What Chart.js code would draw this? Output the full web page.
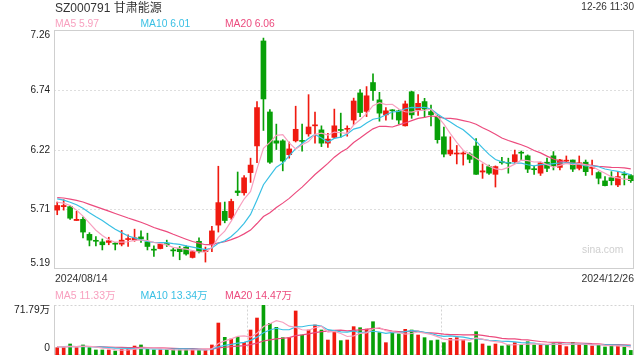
<!DOCTYPE html>
<html><head><meta charset="utf-8">
<script src="https://cdn.jsdelivr.net/npm/chart.js@4.4.1/dist/chart.umd.min.js"></script>
<style>
html,body{margin:0;padding:0;background:#fff;}
#wrap{position:relative;width:640px;height:360px;overflow:hidden;font-family:"Liberation Sans",Arial,"Noto Sans CJK SC",sans-serif;}
canvas{position:absolute;left:0;top:0;}
.t{position:absolute;white-space:nowrap;font-size:10.5px;line-height:14px;height:14px;color:#333;}
</style></head><body>
<div id="wrap">
<canvas id="main" width="640" height="360"></canvas>
<canvas id="vol" width="640" height="360"></canvas>
<div class="t" style="left:55px;top:1px;font-size:12px;">SZ000791 甘肃能源</div>
<div class="t" style="right:6px;top:0px;font-size:10px;">12-26 11:30</div>
<div class="t" id="lg1" style="left:55px;top:17px;font-size:10.3px;color:#f8a0bf">MA5 5.97</div>
<div class="t" id="lg2" style="left:140.5px;top:17px;font-size:10.3px;color:#3ac0e4">MA10 6.01</div>
<div class="t" id="lg3" style="left:225px;top:17px;font-size:10.3px;color:#ec4b7e">MA20 6.06</div>
<div class="t" style="left:582px;top:242.5px;font-size:10.3px;color:#cfcfcf">sina.com</div>
<div class="t" id="d0" style="left:55px;top:270.5px;"></div>
<div class="t" id="d1" style="right:6px;top:270.5px;"></div>
<div class="t" style="left:55px;top:287.5px;color:#f8a0bf">MA5 11.33万</div>
<div class="t" style="left:140.5px;top:287.5px;color:#3ac0e4">MA10 13.34万</div>
<div class="t" style="left:225px;top:287.5px;color:#ec4b7e">MA20 14.47万</div>
</div>
<script>
const dates = ['2024/08/14','2024/08/15','2024/08/16','2024/08/19','2024/08/20','2024/08/21','2024/08/22','2024/08/23','2024/08/26','2024/08/27','2024/08/28','2024/08/29','2024/08/30',
'2024/09/02','2024/09/03','2024/09/04','2024/09/05','2024/09/06','2024/09/09','2024/09/10','2024/09/11','2024/09/12','2024/09/13','2024/09/18','2024/09/19','2024/09/20','2024/09/23','2024/09/24','2024/09/25','2024/09/26','2024/09/27','2024/09/30',
'2024/10/08','2024/10/09','2024/10/10','2024/10/11','2024/10/14','2024/10/15','2024/10/16','2024/10/17','2024/10/18','2024/10/21','2024/10/22','2024/10/23','2024/10/24','2024/10/25','2024/10/28','2024/10/29','2024/10/30','2024/10/31',
'2024/11/01','2024/11/04','2024/11/05','2024/11/06','2024/11/07','2024/11/08','2024/11/11','2024/11/12','2024/11/13','2024/11/14','2024/11/15','2024/11/18','2024/11/19','2024/11/20','2024/11/21','2024/11/22','2024/11/25','2024/11/26','2024/11/27','2024/11/28','2024/11/29',
'2024/12/02','2024/12/03','2024/12/04','2024/12/05','2024/12/06','2024/12/09','2024/12/10','2024/12/11','2024/12/12','2024/12/13','2024/12/16','2024/12/17','2024/12/18','2024/12/19','2024/12/20','2024/12/23','2024/12/24','2024/12/25','2024/12/26'];

const opens = [5.70,5.73,5.73,5.61,5.62,5.49,5.435,5.425,5.42,5.41, 5.405,5.445,5.44,5.468,5.425,5.357,5.367,5.41,5.356,5.367,
5.38,5.29,5.43,5.34,5.40,5.57,5.69,5.635,5.866,5.85, 6.025,6.256,7.165,6.55,6.30,6.30,6.18,6.30,6.30,6.36,
6.43,6.395,6.28,6.33,6.395,6.40,6.48,6.715,6.555,6.805, 6.655,6.525,6.567,6.56,6.43,6.725,6.567,6.64,6.553,6.51,
6.335,6.186,6.186,6.186,6.186,6.255,6.03,6.077,6.01,6.12, 6.11,6.12,6.198,6.17,6.056,6.02,6.115,6.17,6.07,6.124,
6.134,6.062,6.115,6.062,6.025,5.953,5.981,5.918,6.013,5.999];
const highs = [5.77,5.79,5.74,5.69,5.64,5.505,5.47,5.45,5.465,5.42, 5.525,5.485,5.535,5.52,5.50,5.39,5.413,5.44,5.37,5.385,
5.39,5.35,5.46,5.38,5.56,6.08,5.77,5.795,6.03,6.00, 6.15,6.64,7.19,6.57,6.445,6.31,6.29,6.60,6.445,6.70,
6.55,6.43,6.365,6.575,6.54,6.43,6.67,6.745,6.77,6.88, 6.72,6.587,6.57,6.567,6.645,6.73,6.70,6.668,6.61,6.524,
6.42,6.335,6.26,6.205,6.197,6.32,6.10,6.09,6.083,6.157, 6.15,6.22,6.212,6.178,6.082,6.117,6.15,6.207,6.14,6.169,
6.134,6.169,6.134,6.134,6.033,5.99,6.033,6.033,6.033,6.01];
const lows = [5.66,5.70,5.62,5.61,5.46,5.39,5.39,5.355,5.40,5.355, 5.39,5.385,5.43,5.42,5.355,5.30,5.364,5.385,5.30,5.27,
5.31,5.285,5.33,5.25,5.34,5.51,5.59,5.62,5.826,5.83, 5.94,6.11,6.39,6.105,6.225,6.04,6.15,6.29,6.21,6.34,
6.28,6.25,6.244,6.32,6.33,6.34,6.44,6.51,6.51,6.65, 6.47,6.48,6.487,6.446,6.428,6.495,6.52,6.505,6.43,6.28,
6.16,6.172,6.10,6.09,6.11,6.01,5.975,6.01,5.90,6.097, 6.02,6.105,6.135,6.025,6.01,6.00,6.034,6.048,6.048,6.105,
6.034,6.048,6.00,6.005,5.927,5.91,5.918,5.904,5.918,5.94];
const closes = [5.74,5.74,5.63,5.62,5.51,5.44,5.43,5.40,5.435,5.405, 5.44,5.45,5.46,5.45,5.385,5.353,5.405,5.40,5.347,5.34,
5.32,5.34,5.34,5.355,5.52,5.765,5.61,5.775,5.852,5.98, 6.09,6.588,6.663,6.115,6.28,6.125,6.23,6.40,6.295,6.42,
6.435,6.28,6.315,6.43,6.39,6.405,6.645,6.545,6.69,6.735, 6.54,6.56,6.56,6.48,6.62,6.525,6.625,6.575,6.525,6.31,
6.185,6.22,6.19,6.19,6.14,6.01,6.04,6.02,6.077,6.11, 6.105,6.18,6.193,6.055,6.05,6.11,6.062,6.083,6.135,6.13,
6.055,6.11,6.033,6.065,5.976,5.912,5.955,5.99,6.005,5.955];
// closes of the 19 sessions before the window (estimated from where the MA lines start)
const preCloses = [5.80,5.83,5.82,5.81,5.84,5.82,5.80,5.83,5.81,5.83,5.84,5.82,5.83,5.81,5.83,5.78,5.73,5.82,5.77];

// volume, unit 万
const volumes = [10.5,10.5,15.8,10.5,14.4,10.5,7.2,7.2,7.2,5.7, 8.1,8.1,12.9,14.4,8.1,7.2,7.2,7.2,7.2,7.2,
7.2,7.2,8.1,7.2,14.4,45.9,25.4,23.0,25.4,18.2, 35.9,53.1,71.79,45.5,39.7,24.9,24.9,63.2,28.7,35.9,
43.1,35.9,21.5,33.5,20.6,21.5,40.7,39.2,37.3,47.8, 32.1,17.7,33.5,30.2,36.9,35.9,28.7,24.9,20.6,21.5,
17.7,23.9,24.9,22.5,17.7,33.5,15.8,12.9,15.8,12.9, 14.4,17.7,14.4,19.1,14.4,14.4,14.4,16.7,16.7,12.0,
18.2,15.8,14.4,12.9,14.4,11.5,13.5,13.5,11.5,6.6];
const preVolumes = [11.8,12.5,10.9,13.2,12.1,11.4,12.8,13.5,11.2,12.0,12.6,11.9,13.1,12.3,11.7,12.4,11.6,13.0,12.2];

const priceTicks = [5.19, 5.71, 6.22, 6.74, 7.26];
const volMax = 71.79;
const volTickLabels = ['0', '71.79万'];

const UP = '#f01a10', DOWN = '#08a008';
const C5 = '#f8a0bf', C10 = '#3ac0e4', C20 = '#ec4b7e';
const FONT = '"Liberation Sans", Arial, "Noto Sans CJK SC", sans-serif';

function movingAvg(pre, vals, n) {
  const all = pre.concat(vals);
  return vals.map((_, i) => {
    const end = pre.length + i;
    let s = 0;
    for (let k = end - n + 1; k <= end; k++) s += all[k];
    return s / n;
  });
}

document.getElementById('d0').textContent = dates[0];
document.getElementById('d1').textContent = dates[dates.length - 1];

const colors = closes.map((c, i) => c >= opens[i] ? UP : DOWN);
const wicks = lows.map((l, i) => [l, highs[i]]);
const bodies = opens.map((o, i) => [o, closes[i]]);

const lineDs = (data, color, order) => ({
  type: 'line', data, borderColor: color, borderWidth: 1.2, pointRadius: 0,
  tension: 0, fill: false, order
});

const mainPlugin = {
  id: 'mainDeco',
  beforeDatasetsDraw(chart) {
    const { ctx, chartArea: a, scales: { y } } = chart;
    ctx.save();
    ctx.lineWidth = 1;
    ctx.strokeStyle = '#dedede';
    ctx.setLineDash([2, 2]);
    priceTicks.slice(1, -1).forEach(v => {
      const py = Math.round(y.getPixelForValue(v)) + 0.5;
      ctx.beginPath(); ctx.moveTo(a.left, py); ctx.lineTo(a.right, py); ctx.stroke();
    });
    ctx.setLineDash([]);
    ctx.strokeStyle = '#cfcfcf';
    ctx.strokeRect(Math.round(a.left) + 0.5, Math.round(a.top) + 0.5,
      Math.round(a.right - a.left) - 1, Math.round(a.bottom - a.top) - 1);
    ctx.restore();
  },
  afterDraw(chart) {
    const { ctx, chartArea: a, scales: { y } } = chart;
    ctx.save();
    ctx.font = '10px ' + FONT;
    ctx.fillStyle = '#222';
    ctx.textAlign = 'right';
    ctx.textBaseline = 'middle';
    priceTicks.forEach(v => {
      let py = y.getPixelForValue(v);
      py = Math.min(Math.max(py, a.top + 5), a.bottom - 6);
      ctx.fillText(v.toFixed(2), a.left - 4, py);
    });
    ctx.restore();
  }
};

new Chart(document.getElementById('main'), {
  type: 'bar',
  data: {
    labels: dates,
    datasets: [
      lineDs(movingAvg(preCloses, closes, 5), C5, 1),
      lineDs(movingAvg(preCloses, closes, 10), C10, 2),
      lineDs(movingAvg(preCloses, closes, 20), C20, 3),
      { type: 'bar', data: bodies, backgroundColor: colors, barThickness: 5, minBarLength: 1, grouped: false, order: 4 },
      { type: 'bar', data: wicks, backgroundColor: colors, barThickness: 1, grouped: false, order: 5 }
    ]
  },
  options: {
    responsive: false, animation: false, devicePixelRatio: 1,
    layout: { padding: { left: 54, right: 6, top: 30, bottom: 91 } },
    plugins: { legend: { display: false }, tooltip: { enabled: false } },
    scales: {
      x: { type: 'category', display: false, offset: true },
      y: { display: false, min: priceTicks[0], max: priceTicks[priceTicks.length - 1] }
    }
  },
  plugins: [mainPlugin]
});

const volPlugin = {
  id: 'volDeco',
  beforeDatasetsDraw(chart) {
    const { ctx, chartArea: a, scales: { x } } = chart;
    const L = Math.round(a.left) + 0.5, R = Math.round(a.right) - 0.5;
    const T = Math.round(a.top) + 0.5, B = Math.round(a.bottom) - 0.5;
    ctx.save();
    ctx.lineWidth = 1;
    ctx.strokeStyle = '#d4d4d4';
    ctx.setLineDash([2, 2]);
    ctx.beginPath(); ctx.moveTo(L, T); ctx.lineTo(R, T); ctx.stroke();
    ctx.beginPath(); ctx.moveTo(L, B); ctx.lineTo(R, B); ctx.stroke();
    [30, 60].forEach(i => {
      const px = Math.round((x.getPixelForValue(i - 1) + x.getPixelForValue(i)) / 2) + 0.5;
      ctx.beginPath(); ctx.moveTo(px, T); ctx.lineTo(px, B); ctx.stroke();
    });
    ctx.setLineDash([]);
    ctx.strokeStyle = '#cfcfcf';
    ctx.beginPath(); ctx.moveTo(L, a.top); ctx.lineTo(L, a.bottom); ctx.stroke();
    ctx.beginPath(); ctx.moveTo(R, a.top); ctx.lineTo(R, a.bottom); ctx.stroke();
    ctx.restore();
  },
  afterDraw(chart) {
    const { ctx, chartArea: a, scales: { y } } = chart;
    ctx.save();
    ctx.font = '10.3px ' + FONT;
    ctx.fillStyle = '#222';
    ctx.textAlign = 'right';
    ctx.textBaseline = 'middle';
    ctx.fillText(volTickLabels[1], a.left - 4, Math.max(y.getPixelForValue(volMax), a.top + 5.5));
    ctx.fillText(volTickLabels[0], a.left - 4, Math.min(y.getPixelForValue(0), a.bottom - 6.5));
    ctx.restore();
  }
};

new Chart(document.getElementById('vol'), {
  type: 'bar',
  data: {
    labels: dates,
    datasets: [
      lineDs(movingAvg(preVolumes, volumes, 5), C5, 1),
      lineDs(movingAvg(preVolumes, volumes, 10), C10, 2),
      lineDs(movingAvg(preVolumes, volumes, 20), C20, 3),
      { type: 'bar', data: volumes, backgroundColor: colors, barThickness: 3, grouped: false, order: 4 }
    ]
  },
  options: {
    responsive: false, animation: false, devicePixelRatio: 1,
    layout: { padding: { left: 54, right: 6, top: 305, bottom: 5 } },
    plugins: { legend: { display: false }, tooltip: { enabled: false } },
    scales: {
      x: { type: 'category', display: false, offset: true },
      y: { display: false, min: 0, max: volMax }
    }
  },
  plugins: [volPlugin]
});
</script>
</body></html>
